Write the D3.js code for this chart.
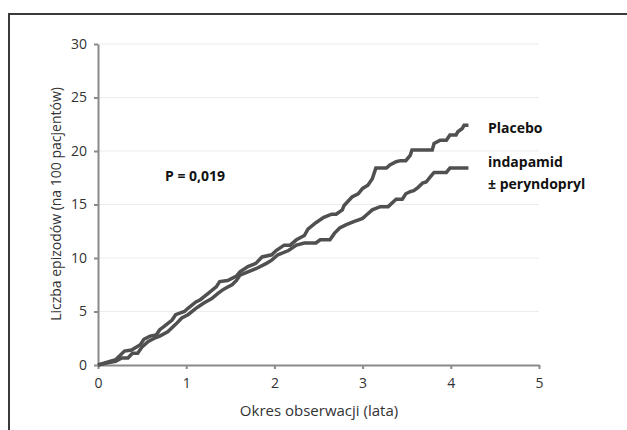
<!DOCTYPE html>
<html>
<head>
<meta charset="utf-8">
<script src="https://cdn.jsdelivr.net/npm/d3@7"></script>
<style>
  body { margin: 0; background: #fff; }
  svg { display: block; font-family: "Open Sans", "Noto Sans", sans-serif; }
</style>
</head>
<body>
<svg id="chart" width="627" height="430"></svg>
<script>
// tick values
const xTicks = [0, 1, 2, 3, 4, 5];
const yTicks = [0, 5, 10, 15, 20, 25, 30];

// Placebo curve (years, episodes per 100 patients)
const placeboX = [0, 0.2, 0.3, 0.38, 0.48, 0.52, 0.59, 0.66, 0.70, 0.75, 0.84, 0.88, 0.98, 1.02, 1.11, 1.16,
  1.25, 1.34, 1.38, 1.47, 1.57, 1.61, 1.70, 1.79, 1.86, 1.97, 2.02, 2.11, 2.18, 2.25, 2.34, 2.38, 2.47,
  2.56, 2.65, 2.70, 2.77, 2.79, 2.88, 2.95, 3.00, 3.06, 3.11, 3.15, 3.27, 3.31, 3.38, 3.43, 3.49, 3.54,
  3.56, 3.79, 3.81, 3.88, 3.95, 3.99, 4.06, 4.08, 4.13, 4.15, 4.2];
const placeboY = [0, 0.5, 1.3, 1.4, 1.9, 2.4, 2.7, 2.8, 3.3, 3.6, 4.2, 4.7, 5.0, 5.3, 5.9, 6.1,
  6.7, 7.3, 7.8, 7.9, 8.3, 8.7, 9.2, 9.5, 10.1, 10.3, 10.7, 11.2, 11.2, 11.7, 12.1, 12.7, 13.3,
  13.8, 14.1, 14.1, 14.5, 14.9, 15.7, 16.0, 16.5, 16.8, 17.4, 18.4, 18.4, 18.7, 19.0, 19.1, 19.1, 19.6,
  20.1, 20.1, 20.7, 21.0, 21.0, 21.5, 21.5, 21.8, 22.1, 22.4, 22.4];

// indapamid ± peryndopryl curve
const indapX = [0, 0.11, 0.2, 0.27, 0.34, 0.39, 0.45, 0.5, 0.57, 0.64, 0.70, 0.79, 0.88, 0.95, 1.02, 1.11,
  1.20, 1.29, 1.36, 1.41, 1.45, 1.52, 1.57, 1.61, 1.70, 1.79, 1.91, 1.97, 2.04, 2.16, 2.25, 2.34, 2.47,
  2.52, 2.63, 2.68, 2.74, 2.81, 2.90, 3.00, 3.04, 3.11, 3.20, 3.29, 3.38, 3.45, 3.49, 3.54, 3.58, 3.63,
  3.68, 3.72, 3.77, 3.81, 3.95, 3.99, 4.2];
const indapY = [0, 0.2, 0.35, 0.65, 0.65, 1.1, 1.1, 1.7, 2.2, 2.5, 2.7, 3.1, 3.8, 4.4, 4.7, 5.3,
  5.8, 6.2, 6.7, 7.0, 7.2, 7.5, 7.9, 8.4, 8.7, 9.0, 9.5, 9.8, 10.3, 10.7, 11.2, 11.4, 11.4,
  11.7, 11.7, 12.3, 12.8, 13.1, 13.4, 13.7, 14.0, 14.5, 14.8, 14.8, 15.5, 15.5, 16.0, 16.2, 16.3, 16.6,
  17.0, 17.1, 17.6, 18.0, 18.0, 18.4, 18.4];

const svg = d3.select("#chart");

// ramka obrazka
svg.append("path")
  .attr("d", "M9,430 V14 H627")
  .attr("fill", "none")
  .attr("stroke", "#3a3a3a")
  .attr("stroke-width", 2);

const x = d3.scaleLinear().domain([0, 5]).range([98, 539]);
const y = d3.scaleLinear().domain([0, 30]).range([365, 44]);

// linie siatki
svg.append("g")
  .selectAll("line")
  .data(yTicks.filter(d => d > 0))
  .join("line")
  .attr("x1", x(0))
  .attr("x2", x(5))
  .attr("y1", d => y(d))
  .attr("y2", d => y(d))
  .attr("stroke", "#ececec")
  .attr("stroke-width", 1.2);

const yAxis = svg.append("g")
  .attr("transform", "translate(" + x(0) + ",0)")
  .call(d3.axisLeft(y).tickValues(yTicks).tickFormat(d3.format("d"))
    .tickSize(4).tickPadding(7).tickSizeOuter(0));

const xAxis = svg.append("g")
  .attr("transform", "translate(0," + y(0) + ")")
  .call(d3.axisBottom(x).tickValues(xTicks).tickFormat(d3.format("d"))
    .tickSize(4).tickPadding(9).tickSizeOuter(0));

[xAxis, yAxis].forEach(function(a) {
  a.select(".domain").attr("stroke", "#8a8a8a").attr("stroke-width", 2);
  a.selectAll(".tick line").attr("stroke", "#8a8a8a").attr("stroke-width", 2);
  a.selectAll(".tick text")
    .attr("fill", "#333")
    .style("font-size", "14px")
    .style("font-family", "'Open Sans', sans-serif");
});

const line = d3.line()
  .x(d => x(d[0]))
  .y(d => y(d[1]));

const series = [
  d3.zip(placeboX, placeboY),
  d3.zip(indapX, indapY)
];

svg.append("g")
  .selectAll("path")
  .data(series)
  .join("path")
  .attr("d", line)
  .attr("fill", "none")
  .attr("stroke", "#505050")
  .attr("stroke-width", 3.5)
  .attr("stroke-linejoin", "miter");

// opisy
const bold = { "font-size": "14px", "font-weight": "bold", "fill": "#111" };
function label(txt, lx, ly) {
  const t = svg.append("text").attr("x", lx).attr("y", ly).text(txt);
  Object.entries(bold).forEach(([k, v]) => t.style(k, v));
}
label("Placebo", 488, 133);
label("indapamid", 488, 167);
label("± peryndopryl", 488, 189);
label("P = 0,019", 165, 181);

svg.append("text")
  .attr("x", 319)
  .attr("y", 416)
  .attr("text-anchor", "middle")
  .style("font-size", "15px")
  .attr("fill", "#333")
  .text("Okres obserwacji (lata)");

svg.append("text")
  .attr("transform", "translate(61,204) rotate(-90)")
  .attr("text-anchor", "middle")
  .style("font-size", "14px")
  .attr("fill", "#333")
  .text("Liczba epizodów (na 100 pacjentów)");
</script>
</body>
</html>
